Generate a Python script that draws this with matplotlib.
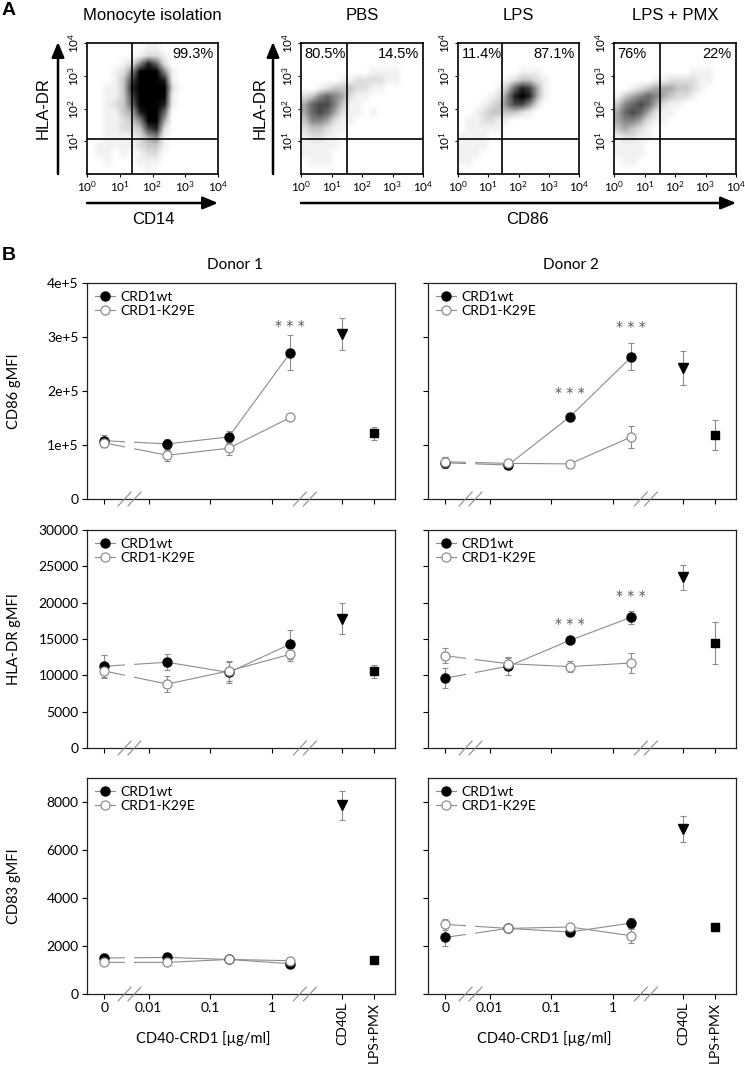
import numpy as np
import matplotlib
matplotlib.use("Agg")
import matplotlib.pyplot as plt
import matplotlib.transforms as mtransforms
from matplotlib.lines import Line2D
from matplotlib.patches import FancyArrowPatch

plt.rcParams["font.family"] = ["Lato", "DejaVu Sans"]
plt.rcParams["mathtext.fontset"] = "custom"
plt.rcParams["mathtext.rm"] = "Liberation Sans"
ARIAL = ["Liberation Sans", "DejaVu Sans"]

# ---------------- Panel A : flow cytometry dot plots ----------------
flow_titles    = ["Monocyte isolation", "PBS", "LPS", "LPS + PMX"]
flow_pct_left  = ["", "80.5%", "11.4%", "76%"]
flow_pct_right = ["99.3%", "14.5%", "87.1%", "22%"]
gate_x = [1.36, 1.50, 1.47, 1.50]     # quadrant gates, log10 units
gate_y = [1.08, 1.08, 1.08, 1.08]

# event density: 0 empty .. 9 solid, cells of 1/4 decade, first row = top (10^4)
dens_mono = ["0000000110000000", "0000001221000000", "0000125862000000", "0001259995100000",
             "0001379998100000", "0011389999200000", "0011379999100000", "0012369998100000",
             "0011348996000000", "0011235994000000", "0011223782000000", "0011112451000000",
             "0111112331000000", "0110101220000000", "0010001110000000", "0000000100000000"]
dens_pbs  = ["0000000000000000", "0000000000000000", "0000000000000000", "0000000001111000",
             "0000011222211000", "0012333221100000", "2356542110000000", "4677531100000000",
             "4676421101000000", "3554211000000000", "2332110000000000", "1221100000000000",
             "1111100000000000", "1111000000000000", "0111000000000000", "0000000000000000"]
dens_lps  = ["0000000000000000", "0000000000000000", "0000000000000000", "0000000011100000",
             "0000001233210000", "0000013687410000", "0000125898410000", "0001235775200000",
             "0012333321000000", "0112211000000000", "0111110000000000", "1111000000000000",
             "1111000000000000", "1110000000000000", "1100000000000000", "0000000000000000"]
dens_pmx  = ["0000000000000000", "0000000000000000", "0000000000000000", "0000000000111000",
             "0000011222211000", "0012344433210000", "1345654322100000", "3567642110000000",
             "4676421100000000", "4554211000000000", "3432100000000000", "1221100000000000",
             "1111000000000000", "1111000000000000", "0110000000000000", "0000000000000000"]
flow_dens = [dens_mono, dens_pbs, dens_lps, dens_pmx]

# ---------------- Panel B : gMFI vs CD40-CRD1 ----------------
conc       = [0, 0.02, 0.2, 2]
conc_ticks = ["0", "0.01", "0.1", "1"]
ctrl_names = ["CD40L", "LPS+PMX"]
series     = ["CRD1wt", "CRD1-K29E"]

cd86_d1_wt  = [1.08e5, 1.02e5, 1.15e5, 2.71e5]; cd86_d1_wt_err  = [0.11e5, 0.09e5, 0.11e5, 0.32e5]
cd86_d1_mut = [1.04e5, 0.81e5, 0.94e5, 1.51e5]; cd86_d1_mut_err = [0.08e5, 0.10e5, 0.12e5, 0.02e5]
cd86_d1_ctrl = [3.06e5, 1.22e5];                cd86_d1_ctrl_err = [0.30e5, 0.12e5]
cd86_d1_stars = [(2, 3.2e5)]
cd86_d2_wt  = [0.67e5, 0.63e5, 1.52e5, 2.63e5]; cd86_d2_wt_err  = [0.10e5, 0.08e5, 0.04e5, 0.25e5]
cd86_d2_mut = [0.69e5, 0.66e5, 0.65e5, 1.15e5]; cd86_d2_mut_err = [0.09e5, 0.07e5, 0.06e5, 0.20e5]
cd86_d2_ctrl = [2.43e5, 1.19e5];                cd86_d2_ctrl_err = [0.31e5, 0.28e5]
cd86_d2_stars = [(0.2, 1.96e5), (2, 3.19e5)]

hla_d1_wt  = [11250, 11800, 10400, 14300]; hla_d1_wt_err  = [1550, 1100, 1400, 2000]
hla_d1_mut = [10600, 8800, 10600, 12900];  hla_d1_mut_err = [800, 1100, 1400, 900]
hla_d1_ctrl = [17800, 10550];              hla_d1_ctrl_err = [2150, 900]
hla_d1_stars = []
hla_d2_wt  = [9600, 11250, 14800, 18000];  hla_d2_wt_err  = [1400, 1200, 400, 900]
hla_d2_mut = [12700, 11600, 11200, 11700]; hla_d2_mut_err = [1000, 900, 800, 1400]
hla_d2_ctrl = [23500, 14500];              hla_d2_ctrl_err = [1700, 2900]
hla_d2_stars = [(0.2, 17000), (2, 20900)]

cd83_d1_wt  = [1500, 1525, 1440, 1262]; cd83_d1_wt_err  = [100, 80, 80, 80]
cd83_d1_mut = [1317, 1317, 1440, 1387]; cd83_d1_mut_err = [80, 80, 80, 80]
cd83_d1_ctrl = [7858, 1400];            cd83_d1_ctrl_err = [590, 80]
cd83_d1_stars = []
cd83_d2_wt  = [2358, 2733, 2583, 2958]; cd83_d2_wt_err  = [375, 100, 100, 200]
cd83_d2_mut = [2900, 2733, 2792, 2429]; cd83_d2_mut_err = [220, 100, 100, 300]
cd83_d2_ctrl = [6875, 2792];            cd83_d2_ctrl_err = [550, 170]
cd83_d2_stars = []

row_ylabels = ["CD86 gMFI", "HLA-DR gMFI", "CD83 gMFI"]
row_ylims   = [4e5, 30000, 9000]
row_yticks  = [[0, 1e5, 2e5, 3e5, 4e5], [0, 5000, 10000, 15000, 20000, 25000, 30000],
               [0, 2000, 4000, 6000, 8000]]
row_ytick_labels = [["0", "1e+5", "2e+5", "3e+5", "4e+5"],
                    ["0", "5000", "10000", "15000", "20000", "25000", "30000"],
                    ["0", "2000", "4000", "6000", "8000"]]
donors = ["Donor 1", "Donor 2"]

# ---------------- layout ----------------
W, H = 745, 1065
fig = plt.figure(figsize=(W / 100, H / 100), dpi=100)

def add_px_axes(x, y, w, h):
    return fig.add_axes([x / W, 1 - (y + h) / H, w / W, h / H])

def fx(x):
    return x / W

def fy(y):
    return 1 - y / H

# x positions on the log axis
ZERO_POS = -2.72
CTRL_POS = [1.14, 1.66]
BREAKS   = [(-2.39, -2.23), (0.455, 0.618)]
LINE = "#8c8c8c"
EDGE = "#8c8c8c"

fig.text(fx(2), fy(2), "A", ha="left", va="top", fontsize=14, fontweight="bold", family=ARIAL)
fig.text(fx(2), fy(247), "B", ha="left", va="top", fontsize=14, fontweight="bold", family=ARIAL)

flow_boxes = [(87, 43, 131, 131), (301, 43, 122, 131), (458, 43, 121, 131), (614, 43, 122, 131)]
for i, box in enumerate(flow_boxes):
    ax = add_px_axes(*box)
    dens = np.array([[int(ch) for ch in row] for row in flow_dens[i]])
    ax.imshow(dens, cmap="Greys", vmin=0, vmax=9, extent=[0, 4, 0, 4], origin="upper",
              interpolation="bilinear", aspect="auto")
    ax.axvline(gate_x[i], color="black", lw=1.2)
    ax.axhline(gate_y[i], color="black", lw=1.2)
    ax.set_xlim(0, 4)
    ax.set_ylim(0, 4)
    ax.set_xticks(range(5))
    ax.set_xticklabels([r"$\mathregular{10^{%d}}$" % k for k in range(5)])
    ax.set_yticks([1, 2, 3, 4])
    ax.set_yticklabels([r"$\mathregular{10^{%d}}$" % k for k in range(1, 5)], rotation=90, va="center")
    ax.tick_params(length=2, width=0.8, pad=2, labelsize=8.5)
    for sp in ax.spines.values():
        sp.set_linewidth(1.2)
    if flow_pct_left[i]:
        ax.text(0.03, 0.97, flow_pct_left[i], transform=ax.transAxes, ha="left", va="top",
                fontsize=10.5, family=ARIAL)
    ax.text(0.965, 0.97, flow_pct_right[i], transform=ax.transAxes, ha="right", va="top",
            fontsize=10.5, family=ARIAL)
    cx = (box[0] + box[2] / 2)
    fig.text(fx(cx), fy(20), flow_titles[i], ha="center", va="baseline", fontsize=12, family=ARIAL)

arrow_style = "-|>,head_length=0.6,head_width=0.25"
for (x0, y0, x1, y1) in [(58, 174, 58, 42), (87, 203, 218, 203), (273, 174, 273, 42), (301, 203, 736, 203)]:
    fig.add_artist(FancyArrowPatch((fx(x0), fy(y0)), (fx(x1), fy(y1)), transform=fig.transFigure,
                                   arrowstyle=arrow_style, mutation_scale=15, lw=1.8,
                                   color="black", shrinkA=0, shrinkB=0))
fig.text(fx(43), fy(108), "HLA-DR", rotation=90, ha="center", va="center", fontsize=12, family=ARIAL)
fig.text(fx(260), fy(108), "HLA-DR", rotation=90, ha="center", va="center", fontsize=12, family=ARIAL)
fig.text(fx(153), fy(219), "CD14", ha="center", va="center", fontsize=12, family=ARIAL)
fig.text(fx(527), fy(219), "CD86", ha="center", va="center", fontsize=12, family=ARIAL)

# ---------------- panel B ----------------
fig.text(fx(235), fy(265), donors[0], ha="center", va="center", fontsize=11)
fig.text(fx(571), fy(265), donors[1], ha="center", va="center", fontsize=11)

panels = [
    [(cd86_d1_wt, cd86_d1_wt_err, cd86_d1_mut, cd86_d1_mut_err, cd86_d1_ctrl, cd86_d1_ctrl_err, cd86_d1_stars),
     (cd86_d2_wt, cd86_d2_wt_err, cd86_d2_mut, cd86_d2_mut_err, cd86_d2_ctrl, cd86_d2_ctrl_err, cd86_d2_stars)],
    [(hla_d1_wt, hla_d1_wt_err, hla_d1_mut, hla_d1_mut_err, hla_d1_ctrl, hla_d1_ctrl_err, hla_d1_stars),
     (hla_d2_wt, hla_d2_wt_err, hla_d2_mut, hla_d2_mut_err, hla_d2_ctrl, hla_d2_ctrl_err, hla_d2_stars)],
    [(cd83_d1_wt, cd83_d1_wt_err, cd83_d1_mut, cd83_d1_mut_err, cd83_d1_ctrl, cd83_d1_ctrl_err, cd83_d1_stars),
     (cd83_d2_wt, cd83_d2_wt_err, cd83_d2_mut, cd83_d2_mut_err, cd83_d2_ctrl, cd83_d2_ctrl_err, cd83_d2_stars)],
]
row_tops = [283, 530, 778]
row_h    = [216, 218, 216]
col_left = [87, 428]

def xpos(c):
    return ZERO_POS if c == 0 else np.log10(c)

xs = [xpos(c) for c in conc]

for r in range(3):
    for col in range(2):
        wt, wt_err, mut, mut_err, ctrl, ctrl_err, stars = panels[r][col]
        ax = add_px_axes(col_left[col], row_tops[r], 308, row_h[r])

        ax.plot(xs, wt, color=LINE, lw=0.8, zorder=2)
        ax.plot(xs, mut, color=LINE, lw=0.8, zorder=2)
        ax.axvspan(BREAKS[0][0], BREAKS[0][1], color="white", lw=0, zorder=2.2)
        ax.errorbar(xs, wt, yerr=wt_err, fmt="none", ecolor=LINE, elinewidth=0.8,
                    capsize=2.5, capthick=0.8, zorder=3)
        ax.errorbar(xs, mut, yerr=mut_err, fmt="none", ecolor=LINE, elinewidth=0.8,
                    capsize=2.5, capthick=0.8, zorder=3)
        ax.plot(xs, wt, "o", ms=6.5, mfc="black", mec="black", zorder=4)
        ax.plot(xs, mut, "o", ms=6.5, mfc="white", mec=EDGE, mew=0.9, zorder=5)

        ax.errorbar(CTRL_POS, ctrl, yerr=ctrl_err, fmt="none", ecolor=LINE, elinewidth=0.8,
                    capsize=2.5, capthick=0.8, zorder=3)
        ax.plot(CTRL_POS[0], ctrl[0], "v", ms=7, color="black", zorder=4)
        ax.plot(CTRL_POS[1], ctrl[1], "s", ms=5.5, color="black", zorder=4)

        for sx, sy in stars:
            ax.text(xpos(sx), sy, "* * *", ha="center", va="center", fontsize=10,
                    color="#555555", family=["DejaVu Sans"])

        # axis break marks
        tr = mtransforms.blended_transform_factory(ax.transData, ax.transAxes)
        for b in BREAKS:
            for bx in b:
                ax.plot([bx - 0.105, bx + 0.105], [-0.032, 0.032], transform=tr, color=LINE,
                        lw=0.8, clip_on=False, zorder=6)

        ax.set_xlim(-3.0, 2.0)
        ax.set_ylim(0, row_ylims[r])
        ax.set_xticks([ZERO_POS, -2, -1, 0] + CTRL_POS)
        ax.set_yticks(row_yticks[r])
        ax.tick_params(direction="out", length=3.5, width=0.8, pad=2.5, labelsize=10)
        for sp in ax.spines.values():
            sp.set_linewidth(0.9)
            sp.set_color("#222222")

        if col == 0:
            ax.set_yticklabels(row_ytick_labels[r])
            ax.set_ylabel(row_ylabels[r], fontsize=10.5)
            ax.yaxis.set_label_coords(-0.215, 0.5)
        else:
            ax.set_yticklabels([])

        if r == 2:
            ax.set_xticklabels(conc_ticks + ctrl_names)
            for lab in ax.get_xticklabels()[4:]:
                lab.set_rotation(90)
                lab.set_va("top")
            ax.text(0.377, -0.205, "CD40-CRD1 [µg/ml]", transform=ax.transAxes,
                    ha="center", va="center", fontsize=10.5)
        else:
            ax.set_xticklabels([])

        handles = [Line2D([], [], color=LINE, lw=0.8, marker="o", ms=6.5, mfc="black", mec="black"),
                   Line2D([], [], color=LINE, lw=0.8, marker="o", ms=6.5, mfc="white", mec=EDGE, mew=0.9)]
        ax.legend(handles, series, loc="upper left", frameon=False, fontsize=10,
                  handlelength=1.5, handletextpad=0.35, labelspacing=0.15,
                  borderaxespad=0.25, borderpad=0.3)

fig.savefig("out.png", dpi=100)
